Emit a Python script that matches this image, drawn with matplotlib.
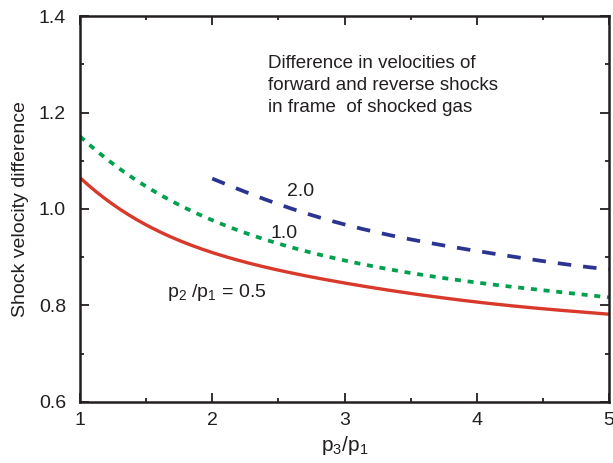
"""
shock velocity difference vs p3/p1
"""

import numpy as np
import matplotlib
matplotlib.use("Agg")
import matplotlib.pyplot as plt
from matplotlib.ticker import MultipleLocator

plt.rcParams['font.family'] = ['Liberation Sans', 'DejaVu Sans']
plt.rcParams['mathtext.fontset'] = 'custom'
plt.rcParams['mathtext.rm'] = 'Liberation Sans'
plt.rcParams['mathtext.it'] = 'Liberation Sans'

# values
x_grid = [1.0, 1.25, 1.5, 1.75, 2.0, 2.5, 3.0, 3.5, 4.0, 4.5, 5.0]
red_05 = [1.065, 1.01, 0.965, 0.935, 0.912, 0.872, 0.846, 0.826, 0.807, 0.793, 0.782]
green_10 = [1.152, 1.09, 1.048, 1.01, 0.977, 0.927, 0.893, 0.868, 0.848, 0.831, 0.817]
x_blue = [2.0, 2.5, 3.0, 3.5, 4.0, 4.5, 5.0]
blue_20 = [1.063, 1.01, 0.968, 0.937, 0.913, 0.892, 0.875]

x_ticks = [1, 2, 3, 4, 5]
y_ticks = [0.6, 0.8, 1.0, 1.2, 1.4]


def smooth(xs, ys, n=200):
    # smooth curve through the read points
    xs = np.asarray(xs)
    ys = np.asarray(ys)
    xx = np.linspace(xs[0], xs[-1], n)
    coef = np.polyfit(xs, ys, min(5, len(xs) - 1))
    return xx, np.polyval(coef, xx)


fig = plt.figure(figsize=(6.13, 4.63), dpi=100)
ax = fig.add_axes([0.1305, 0.1318, 0.8630, 0.8336])

xr, yr = smooth(x_grid, red_05)
xg, yg = smooth(x_grid, green_10)
xb, yb = smooth(x_blue, blue_20)

ax.plot(xr, yr, color='#d8392b', lw=2.4, solid_capstyle='butt')
ax.plot(xg, yg, color='#00a04e', lw=2.7, linestyle=(0, (1.6, 1.8)))
ax.plot(xb, yb, color='#2b3491', lw=2.7, linestyle=(0, (3.6, 3.2)))

ax.set_xlim(1, 5)
ax.set_ylim(0.6, 1.4)
ax.set_xticks(x_ticks)
ax.set_xticklabels([str(t) for t in x_ticks])
ax.set_yticks(y_ticks)
ax.set_yticklabels(['%.1f' % t for t in y_ticks])
ax.xaxis.set_minor_locator(MultipleLocator(0.5))
ax.yaxis.set_minor_locator(MultipleLocator(0.1))

ax.tick_params(which='both', direction='in', top=True, right=True,
               labelsize=14, colors='#231f20')
ax.tick_params(axis='x', pad=7)
ax.tick_params(axis='y', pad=10)
ax.tick_params(which='major', length=6.5, width=1.3)
ax.tick_params(which='minor', length=3, width=1.3)
for s in ax.spines.values():
    s.set_linewidth(1.8)
    s.set_color('#231f20')

ax.set_xlabel('p$_3$/p$_1$', fontsize=15, color='#231f20', labelpad=4)
ax.set_ylabel('Shock velocity difference', fontsize=14, color='#231f20', labelpad=7)

ax.text(2.42, 1.256, 'Difference in velocities of\nforward and reverse shocks\nin frame  of shocked gas',
        fontsize=13.5, color='#231f20', va='center', ha='left', linespacing=1.42)
ax.text(2.67, 1.036, '2.0', fontsize=14, color='#231f20', ha='center', va='center')
ax.text(2.54, 0.949, '1.0', fontsize=14, color='#231f20', ha='center', va='center')
ax.text(1.66, 0.826, 'p$_2$ /p$_1$ = 0.5', fontsize=14, color='#231f20', ha='left', va='center')

fig.savefig('out.png', dpi=100)
